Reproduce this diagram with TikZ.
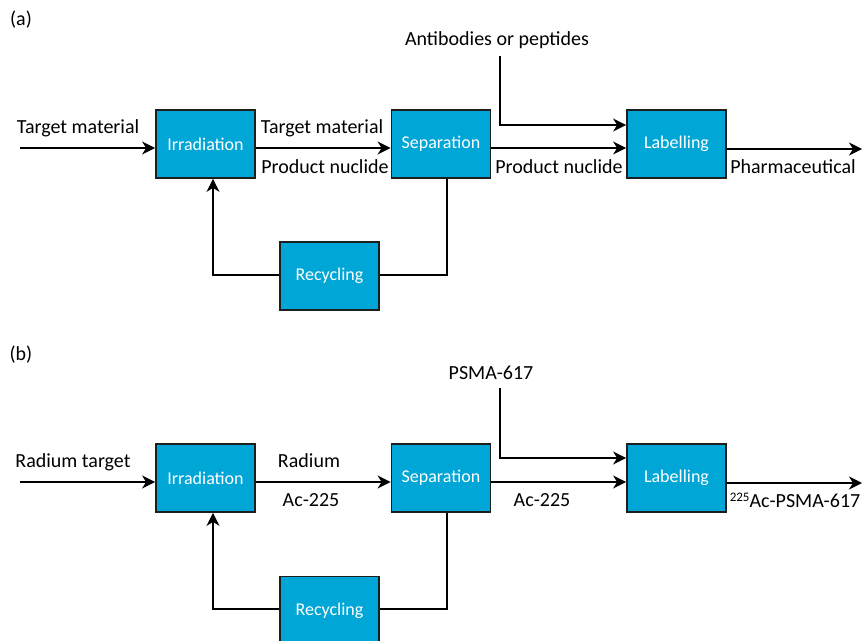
\documentclass[tikz,border=0pt]{standalone}
\usepackage{fontspec}
\setmainfont{Carlito}
\usetikzlibrary{arrows.meta,calc}
\definecolor{boxblue}{RGB}{0,166,214}
\definecolor{edge}{RGB}{30,30,30}
\tikzset{
  procbox/.style={draw=edge,line width=1.8pt,fill=boxblue,minimum width=99pt,minimum height=68pt,inner sep=0pt,text=white,font=\fontsize{18}{20}\selectfont},
  lbl/.style={inner sep=0pt,font=\fontsize{20}{22}\selectfont,text=black},
  conn/.style={line width=1.6pt,draw=black},
  arr/.style={conn,-{Stealth[length=13pt,width=13pt,inset=4pt]}},
}
\begin{document}
\begin{tikzpicture}[x=1pt,y=-1pt]
\useasboundingbox (0,0) rectangle (862,640);
\clip (0,0) rectangle (862,640);
% ---------- panel (a)
\node[lbl] (tagA) at (21,20) {(a)};
\node[procbox] (irrA) at (205.5,144) {Irradiation};
\node[procbox] (sepA) at (441,144) {Separation};
\node[procbox] (labA) at (676.5,144) {Labelling};
\node[procbox] (recA) at (329.5,276) {Recycling};
\coordinate (inA) at (20,148);
\coordinate (outA) at (862,149);
\coordinate (abA) at (500,56);
\coordinate (abkA) at (500,125);
\coordinate (sdA) at (447,275);
\coordinate (iuA) at (213,275);
\node[lbl] (t1A) at (78,128.5) {Target material};
\node[lbl] (t2A) at (322,128.5) {Target material};
\node[lbl] (t3A) at (325,166.5) {Product nuclide};
\node[lbl] (t4A) at (559,166.5) {Product nuclide};
\node[lbl] (t5A) at (793,166.5) {Pharmaceutical};
\node[lbl] (t6A) at (497,40.5) {Antibodies or peptides};
\draw[arr] (inA) -- (irrA.west |- inA);
\draw[arr] (irrA.east |- inA) -- (sepA.west |- inA);
\draw[arr] (sepA.east |- inA) -- (labA.west |- inA);
\draw[arr] (labA.east |- outA) -- (outA);
\draw[arr] (abA) -- (abkA) -- (labA.west |- abkA);
\draw[conn] (sepA.south -| sdA) -- (sdA) -- (recA.east |- sdA);
\draw[arr] (recA.west |- iuA) -- (iuA) -- (irrA.south -| iuA);
% ---------- panel (b)
\node[lbl] (tagB) at (21,355) {(b)};
\node[procbox] (irrB) at (205.5,478) {Irradiation};
\node[procbox] (sepB) at (441,478) {Separation};
\node[procbox] (labB) at (676.5,478) {Labelling};
\node[procbox] (recB) at (329.5,610.5) {Recycling};
\coordinate (inB) at (20,482);
\coordinate (outB) at (862,483);
\coordinate (abB) at (500,388);
\coordinate (abkB) at (500,458);
\coordinate (sdB) at (447,609);
\coordinate (iuB) at (213,609);
\node[lbl] (t1B) at (73,462) {Radium target};
\node[lbl] (t2B) at (309,461) {Radium};
\node[lbl] (t3B) at (311,500.5) {Ac-225};
\node[lbl] (t4B) at (542,500.5) {Ac-225};
\node[lbl] (t5B) at (795,500.5) {{\fontsize{13}{14}\selectfont\raisebox{6pt}{225}}Ac-PSMA-617};
\node[lbl] (t6B) at (491,373) {PSMA-617};
\draw[arr] (inB) -- (irrB.west |- inB);
\draw[arr] (irrB.east |- inB) -- (sepB.west |- inB);
\draw[arr] (sepB.east |- inB) -- (labB.west |- inB);
\draw[arr] (labB.east |- outB) -- (outB);
\draw[arr] (abB) -- (abkB) -- (labB.west |- abkB);
\draw[conn] (sepB.south -| sdB) -- (sdB) -- (recB.east |- sdB);
\draw[arr] (recB.west |- iuB) -- (iuB) -- (irrB.south -| iuB);
\end{tikzpicture}
\end{document}
